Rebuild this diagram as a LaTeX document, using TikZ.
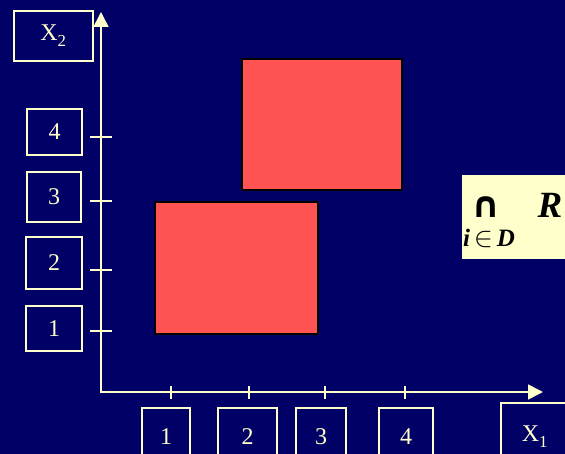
\documentclass[tikz,border=0pt]{standalone}
\usepackage{fontspec}
\usepackage{unicode-math}
\setmainfont{Liberation Serif}
\setmathfont{Latin Modern Math}
\newfontfamily\dejavu{DejaVu Sans}
\usetikzlibrary{arrows.meta}
\definecolor{navy}{RGB}{0,0,102}
\definecolor{cream}{RGB}{255,255,204}
\definecolor{boxred}{RGB}{255,82,82}
\tikzset{
  lbl/.style={draw=cream, line width=1.6pt, text=cream, inner sep=0pt, font=\fontsize{24}{24}\selectfont},
  axis/.style={draw=cream, line width=1.6pt, -{Triangle[length=15pt,width=15pt]}},
  tick/.style={draw=cream, line width=1.4pt},
  region/.style={draw=black, line width=1.2pt, fill=boxred},
}
\begin{document}
\begin{tikzpicture}[x=1pt,y=-1pt]
\useasboundingbox (0,0) rectangle (565,454);
\clip (0,0) rectangle (565,454);
\fill[navy] (0,0) rectangle (565,454);
% regions
\path[region] (242,59) rectangle (402,190);
\path[region] (155,202) rectangle (318,334);
% axes
\coordinate (O) at (101,392);
\coordinate (ytop) at (101,12);
\coordinate (xend) at (543,392);
\draw[axis] (101,393) -- (ytop);
\draw[axis] (100,392) -- (xend);
% x ticks
\foreach \x/\n in {171/1,249/2,325/3,405/4}{
  \draw[tick] (\x,386) -- (\x,399);
}
% y ticks
\foreach \y in {137,201,270,331}{
  \draw[tick] (90,\y) -- (112,\y);
}
% y labels
\node[lbl, minimum width=55pt, minimum height=46pt] (y4) at (54.5,132) {4};
\node[lbl, minimum width=54pt, minimum height=50pt] (y3) at (54,197) {3};
\node[lbl, minimum width=56pt, minimum height=52pt] (y2) at (54,263) {2};
\node[lbl, minimum width=56pt, minimum height=45pt] (y1) at (54,328.5) {1};
\node[lbl, minimum width=79pt, minimum height=50pt] (x2) at (53.5,36) {X\textsubscript{2}};
% x labels
\node[lbl, minimum width=48pt, minimum height=58pt] (x1l) at (166,437) {1};
\node[lbl, minimum width=59pt, minimum height=58pt] (x2l) at (247.5,437) {2};
\node[lbl, minimum width=50pt, minimum height=58pt] (x3l) at (321,437) {3};
\node[lbl, minimum width=54pt, minimum height=58pt] (x4l) at (406,437) {4};
\node[lbl, minimum width=68pt, minimum height=68pt] (x1) at (535,437) {X\textsubscript{1}};
% intersection box
\node[fill=cream, draw=none, minimum width=113pt, minimum height=84pt, inner sep=0pt] (ybox) at (518.5,217) {};
\node[inner sep=0pt, font=\fontsize{36}{36}\dejavu\bfseries] (cap) at (486,207) {∩};
\node[inner sep=0pt, anchor=base west, font=\fontsize{25}{25}\selectfont\bfseries\itshape] (sub) at (463,247) {i\kern4pt{\fontsize{28}{28}\selectfont$\in$}\kern4ptD};
\node[inner sep=0pt, font=\fontsize{37}{37}\selectfont\bfseries\itshape] (R) at (550,205) {R};
\end{tikzpicture}
\end{document}
